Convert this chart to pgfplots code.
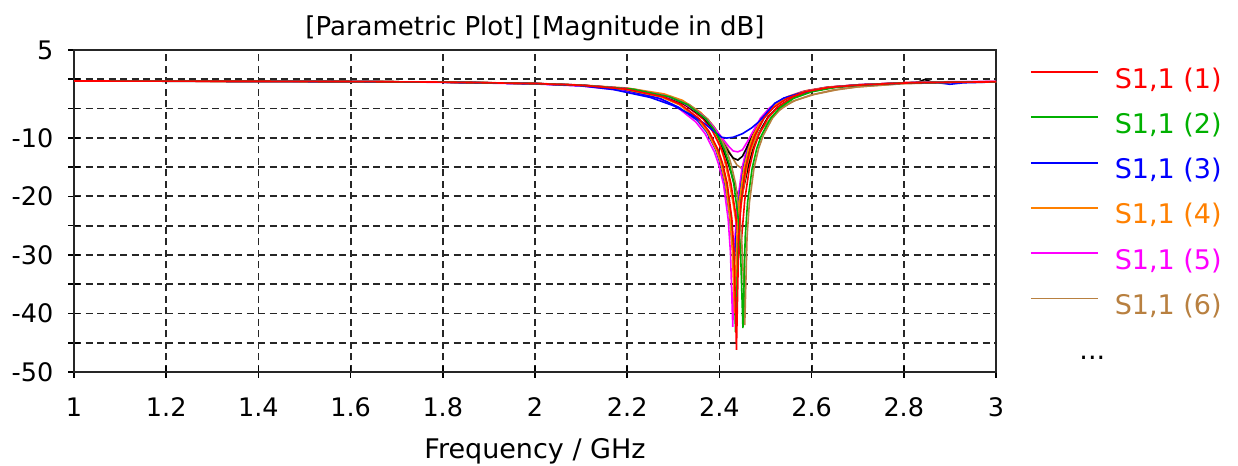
\documentclass[border=0pt]{standalone}
\usepackage{pgfplots}
\pgfplotsset{compat=1.18}
\usepackage{fontspec}
\setmainfont{DejaVu Sans}
\definecolor{cRed}{RGB}{255,0,0}
\definecolor{cGreen}{RGB}{0,176,0}
\definecolor{cBlue}{RGB}{0,0,255}
\definecolor{cOrange}{RGB}{255,128,0}
\definecolor{cMag}{RGB}{255,0,255}
\definecolor{cBrown}{RGB}{184,128,64}
\begin{document}
\begin{tikzpicture}
\useasboundingbox (0,0) rectangle (1238bp,466bp);
\begin{axis}[
 at={(74bp,94bp)}, anchor=south west,
 width=922bp, height=322bp, scale only axis,
 xmin=1, xmax=3, ymin=-50, ymax=5,
 xtick={1,1.2,1.4,1.6,1.8,2,2.2,2.4,2.6,2.8,3},
 xticklabels={1,1.2,1.4,1.6,1.8,2,2.2,2.4,2.6,2.8,3},
 ytick={-50,-45,-40,-35,-30,-25,-20,-15,-10,-5,0,5},
 yticklabels={-50,,-40,,-30,,-20,,-10,,,5},
 xtick pos=bottom, ytick pos=left,
 tick align=center, major tick length=11bp,
 tick style={line width=1.6bp, black},
 axis line style={line width=1.8bp, black!85},
 grid=major,
 major grid style={line width=1.8bp, black!85, dash pattern=on 7bp off 4.5bp},
 ticklabel style={font=\fontsize{25.5bp}{30bp}\selectfont, inner sep=0pt},
 xticklabel style={anchor=north, yshift=-20bp},
 yticklabel style={anchor=east, xshift=-15bp},
 title={[Parametric Plot] [Magnitude in dB]},
 title style={font=\fontsize{26bp}{31bp}\selectfont, at={(axis description cs:0.5,1)}, anchor=base, yshift=9bp, inner sep=0pt},
 xlabel={Frequency / GHz},
 xlabel style={font=\fontsize{27bp}{32bp}\selectfont, at={(axis description cs:0.5,0)}, anchor=base, yshift=-86bp, inner sep=0pt},
 legend style={at={(1.0369,0.944)}, anchor=north west, draw=none, fill=none,
   font=\fontsize{27bp}{32bp}\selectfont, row sep=19.3bp, inner sep=0pt, outer sep=0pt,
   nodes={inner sep=0pt, text height=20bp, text depth=6bp},
   /tikz/every odd column/.append style={column sep=16bp}},
 legend cell align=left,
 legend image code/.code={\draw[#1, line width=1.8bp] (0bp,9bp) -- (67bp,9bp);},
 reverse legend,
]
% ---- background curves (7..14) ----
\addplot[black, line width=1.6bp, forget plot] coordinates {(1,-0.32)(1.2,-0.33)(1.4,-0.35)(1.6,-0.40)(1.8,-0.50)(2.0,-0.75)(2.1,-1.05)(2.205,-1.68)(2.285,-2.99)(2.325,-4.34)(2.365,-6.65)(2.385,-8.59)(2.405,-11.45)(2.415,-13.45)(2.425,-15.85)(2.435,-18.65)(2.44,-19.75)(2.445,-20.2)(2.45,-19.45)(2.455,-17.65)(2.465,-14.05)(2.475,-11.3)(2.485,-9.25)(2.505,-6.5)(2.525,-4.86)(2.555,-3.26)(2.595,-2.12)(2.645,-1.40)(2.7,-1.0)(2.8,-0.62)(2.83,-0.5)(2.845,-0.05)(2.86,-0.45)(2.9,-0.45)(3.0,-0.42)};
\addplot[cBrown, line width=1.6bp, forget plot] coordinates {(1,-0.31)(1.2,-0.32)(1.4,-0.35)(1.6,-0.40)(1.8,-0.49)(2.0,-0.74)(2.1,-1.03)(2.208,-1.63)(2.288,-2.87)(2.328,-4.13)(2.368,-6.34)(2.388,-8.07)(2.408,-10.45)(2.418,-11.85)(2.428,-13.35)(2.438,-14.65)(2.448,-15.2)(2.458,-14.25)(2.468,-12.25)(2.478,-10.3)(2.488,-8.9)(2.508,-7.0)(2.528,-5.4)(2.558,-3.8)(2.598,-2.7)(2.648,-1.8)(2.7,-1.3)(2.8,-0.75)(2.9,-0.55)(3,-0.48)};
\addplot[cMag, line width=1.6bp, forget plot] coordinates {(1,-0.30)(1.2,-0.32)(1.4,-0.35)(1.6,-0.41)(1.8,-0.52)(2.0,-0.8)(2.1,-1.15)(2.189,-1.9)(2.269,-3.3)(2.309,-4.8)(2.349,-7.3)(2.369,-9.3)(2.389,-12.4)(2.399,-14.7)(2.409,-18.0)(2.419,-23.9)(2.424,-29.6)(2.429,-42.3)(2.434,-26.9)(2.439,-21.1)(2.449,-15.2)(2.459,-11.85)(2.469,-9.6)(2.489,-6.65)(2.509,-4.86)(2.539,-3.26)(2.579,-2.12)(2.629,-1.40)(2.7,-0.95)(2.8,-0.6)(2.9,-0.45)(3,-0.4)};
\addplot[cOrange, line width=1.6bp, forget plot] coordinates {(1,-0.31)(1.2,-0.32)(1.4,-0.34)(1.6,-0.39)(1.8,-0.47)(2.0,-0.7)(2.1,-0.98)(2.20,-1.5)(2.28,-2.5)(2.32,-3.6)(2.36,-5.7)(2.38,-7.6)(2.40,-11.0)(2.41,-13.5)(2.42,-16.9)(2.43,-21.3)(2.435,-23.9)(2.44,-25.2)(2.445,-23.05)(2.45,-19.75)(2.46,-14.75)(2.47,-11.65)(2.48,-9.3)(2.50,-6.0)(2.52,-4.3)(2.55,-2.9)(2.59,-1.9)(2.64,-1.3)(2.7,-0.95)(2.8,-0.6)(2.9,-0.5)(3,-0.42)};
\addplot[cBlue, line width=1.6bp, forget plot] coordinates {(1,-0.30)(1.2,-0.31)(1.4,-0.34)(1.6,-0.40)(1.8,-0.49)(2.0,-0.75)(2.1,-1.06)(2.192,-1.75)(2.272,-3.3)(2.312,-4.8)(2.352,-7.0)(2.372,-8.95)(2.392,-12.03)(2.402,-14.4)(2.412,-17.8)(2.422,-23.15)(2.427,-27.65)(2.432,-31.4)(2.437,-25.75)(2.442,-20.75)(2.452,-15.2)(2.462,-11.85)(2.472,-9.6)(2.492,-6.65)(2.512,-4.86)(2.542,-3.26)(2.582,-2.12)(2.632,-1.40)(2.7,-0.95)(2.8,-0.62)(2.87,-0.55)(2.9,-0.85)(2.93,-0.6)(3,-0.45)};
\addplot[cGreen, line width=1.6bp, forget plot] coordinates {(1,-0.30)(1.2,-0.31)(1.4,-0.34)(1.6,-0.39)(1.8,-0.48)(2.0,-0.73)(2.1,-1.02)(2.195,-1.68)(2.275,-2.99)(2.315,-4.34)(2.355,-6.80)(2.375,-8.85)(2.395,-12.03)(2.405,-14.4)(2.415,-17.8)(2.425,-23.8)(2.43,-29.6)(2.435,-43.2)(2.44,-26.9)(2.445,-21.1)(2.455,-15.2)(2.465,-11.85)(2.475,-9.6)(2.495,-6.65)(2.515,-4.86)(2.545,-3.26)(2.585,-2.12)(2.635,-1.40)(2.7,-1.0)(2.8,-0.64)(2.9,-0.5)(3.0,-0.45)};
\addplot[cRed, line width=1.6bp, forget plot] coordinates {(1,-0.30)(1.2,-0.31)(1.4,-0.34)(1.6,-0.39)(1.8,-0.48)(2.0,-0.73)(2.1,-1.02)(2.205,-1.68)(2.285,-2.99)(2.325,-4.34)(2.365,-6.80)(2.385,-8.85)(2.405,-12.03)(2.415,-14.4)(2.425,-17.8)(2.435,-22.9)(2.44,-27)(2.445,-30)(2.45,-25.4)(2.455,-20.6)(2.465,-15.2)(2.475,-11.85)(2.485,-9.6)(2.505,-6.65)(2.525,-4.86)(2.555,-3.26)(2.595,-2.12)(2.645,-1.40)(2.7,-1.0)(2.8,-0.64)(2.9,-0.5)(3.0,-0.45)};
\addplot[black, line width=1.6bp, forget plot] coordinates {(1,-0.31)(1.2,-0.32)(1.4,-0.34)(1.6,-0.39)(1.8,-0.47)(2.0,-0.72)(2.1,-1.0)(2.20,-1.61)(2.28,-2.83)(2.32,-4.05)(2.36,-6.18)(2.38,-7.8)(2.40,-9.95)(2.41,-11.15)(2.42,-12.45)(2.43,-13.45)(2.44,-13.8)(2.45,-13.15)(2.46,-11.55)(2.47,-9.84)(2.48,-8.34)(2.50,-6.05)(2.52,-4.52)(2.55,-3.08)(2.59,-2.0)(2.64,-1.36)(2.7,-0.98)(2.8,-0.62)(2.9,-0.48)(3,-0.43)};
% ---- legend curves (6..1) ----
\addlegendimage{empty legend}
\addlegendentry{\hspace*{-46bp}...}
\addplot[cBrown, line width=1.6bp] coordinates {(1,-0.31)(1.2,-0.32)(1.4,-0.35)(1.6,-0.40)(1.8,-0.49)(2.0,-0.74)(2.1,-1.03)(2.215,-1.68)(2.295,-2.99)(2.335,-4.34)(2.375,-6.80)(2.395,-8.85)(2.415,-12.03)(2.425,-14.4)(2.435,-17.8)(2.445,-23.8)(2.450,-29.5)(2.455,-42)(2.460,-26.9)(2.465,-21.1)(2.475,-15.2)(2.485,-11.85)(2.495,-9.6)(2.515,-6.65)(2.535,-4.86)(2.565,-3.6)(2.605,-2.6)(2.655,-1.8)(2.7,-1.3)(2.8,-0.72)(2.9,-0.52)(3,-0.46)};
\addlegendentry{\textcolor{cBrown}{S1,1 (6)}}
\addplot[cMag, line width=1.6bp] coordinates {(1,-0.30)(1.2,-0.31)(1.4,-0.34)(1.6,-0.39)(1.8,-0.48)(2.0,-0.72)(2.1,-1.0)(2.20,-1.58)(2.28,-2.77)(2.32,-3.95)(2.36,-5.98)(2.38,-7.49)(2.40,-9.41)(2.41,-10.45)(2.42,-11.45)(2.43,-12.25)(2.44,-12.4)(2.45,-12.05)(2.46,-10.75)(2.47,-9.31)(2.48,-7.98)(2.50,-5.86)(2.52,-4.4)(2.55,-3.01)(2.59,-1.98)(2.64,-1.35)(2.7,-0.95)(2.8,-0.6)(2.9,-0.42)(3,-0.38)};
\addlegendentry{\textcolor{cMag}{S1,1 (5)}}
\addplot[cOrange, line width=1.6bp] coordinates {(1,-0.31)(1.2,-0.32)(1.4,-0.35)(1.6,-0.40)(1.8,-0.49)(2.0,-0.74)(2.1,-1.04)(2.193,-1.68)(2.273,-2.99)(2.313,-4.34)(2.353,-6.80)(2.373,-8.85)(2.393,-12.03)(2.403,-14.4)(2.413,-17.8)(2.423,-23.7)(2.428,-29.2)(2.433,-40)(2.438,-26.6)(2.443,-21.0)(2.453,-15.2)(2.463,-11.85)(2.473,-9.6)(2.493,-6.65)(2.513,-4.86)(2.543,-3.26)(2.583,-2.12)(2.633,-1.40)(2.7,-0.97)(2.8,-0.6)(2.9,-0.47)(3,-0.42)};
\addlegendentry{\textcolor{cOrange}{S1,1 (4)}}
\addplot[cBlue, line width=1.6bp] coordinates {(1,-0.3)(1.2,-0.31)(1.4,-0.34)(1.6,-0.4)(1.8,-0.5)(2.0,-0.75)(2.1,-1.1)(2.17,-1.75)(2.25,-3.1)(2.3,-4.5)(2.34,-6.1)(2.37,-7.7)(2.39,-9.0)(2.405,-9.9)(2.415,-10.05)(2.43,-9.9)(2.45,-9.3)(2.47,-8.3)(2.485,-7.3)(2.5,-6.0)(2.52,-4.1)(2.54,-3.2)(2.57,-2.5)(2.6,-1.95)(2.65,-1.35)(2.7,-1.0)(2.8,-0.65)(2.9,-0.5)(3,-0.45)};
\addlegendentry{\textcolor{cBlue}{S1,1 (3)}}
\addplot[cGreen, line width=1.6bp] coordinates {(1,-0.30)(1.2,-0.31)(1.4,-0.34)(1.6,-0.39)(1.8,-0.48)(2.0,-0.73)(2.1,-1.02)(2.211,-1.68)(2.291,-2.99)(2.331,-4.34)(2.371,-6.80)(2.391,-8.85)(2.411,-12.03)(2.421,-14.4)(2.431,-17.8)(2.441,-23.8)(2.446,-29.6)(2.451,-42.5)(2.456,-26.9)(2.461,-21.1)(2.471,-15.2)(2.481,-11.85)(2.491,-9.6)(2.511,-6.65)(2.531,-4.86)(2.561,-3.26)(2.601,-2.12)(2.651,-1.40)(2.7,-1.02)(2.8,-0.64)(2.9,-0.5)(3.0,-0.45)};
\addlegendentry{\textcolor{cGreen}{S1,1 (2)}}
\addplot[cRed, line width=1.6bp] coordinates {(1,-0.30)(1.2,-0.31)(1.4,-0.34)(1.6,-0.39)(1.8,-0.48)(2.0,-0.73)(2.1,-1.02)(2.197,-1.68)(2.277,-2.99)(2.317,-4.34)(2.357,-6.80)(2.377,-8.85)(2.397,-12.03)(2.407,-14.4)(2.417,-17.8)(2.427,-23.8)(2.432,-29.8)(2.437,-46.2)(2.442,-27.0)(2.447,-21.1)(2.457,-15.2)(2.467,-11.85)(2.477,-9.6)(2.497,-6.65)(2.517,-4.86)(2.547,-3.26)(2.587,-2.12)(2.637,-1.40)(2.7,-1.0)(2.8,-0.64)(2.9,-0.5)(3.0,-0.45)};
\addlegendentry{\textcolor{cRed}{S1,1 (1)}}
\end{axis}
\end{tikzpicture}
\end{document}
